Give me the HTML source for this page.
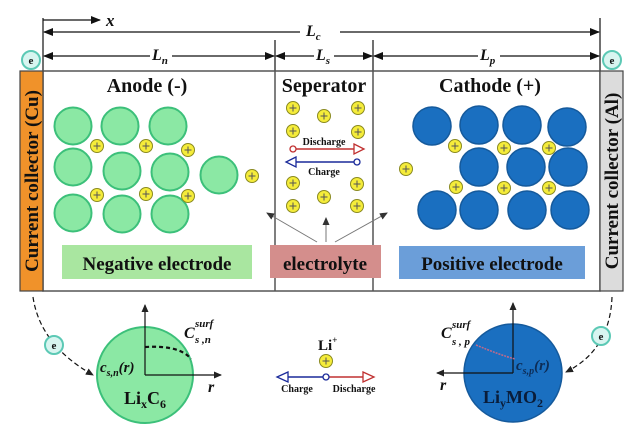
<!DOCTYPE html>
<html><head><meta charset="utf-8"><style>
html,body{margin:0;padding:0;background:#fff}
svg{display:block}
text{font-family:"Liberation Serif",serif;font-weight:bold;fill:#111}
</style></head><body>
<svg width="640" height="440" viewBox="0 0 640 440" xmlns="http://www.w3.org/2000/svg">
<defs>
<marker id="ah" markerWidth="10" markerHeight="8" refX="9" refY="4" orient="auto" markerUnits="userSpaceOnUse"><path d="M0,0 L10,4 L0,8 z" fill="#111"/></marker>
<marker id="ahs" markerWidth="8" markerHeight="7" refX="7" refY="3.5" orient="auto" markerUnits="userSpaceOnUse"><path d="M0,0 L8,3.5 L0,7 z" fill="#222"/></marker>
<marker id="ahg" markerWidth="8" markerHeight="7" refX="7" refY="3.5" orient="auto" markerUnits="userSpaceOnUse"><path d="M0,0 L8,3.5 L0,7 z" fill="#333"/></marker>
<g id="ion"><circle r="6.5" fill="#f5ec3a" stroke="#8a8a20" stroke-width="1"/><path d="M-3.5,0H3.5M0,-3.5V3.5" stroke="#555" stroke-width="1"/></g>
<g id="gc"><circle r="18.5" fill="#8be8a4" stroke="#3cc07a" stroke-width="2"/></g>
<g id="bc"><circle r="19" fill="#1a6fc0" stroke="#155a9c" stroke-width="1.5"/></g>
</defs>

<g stroke="#111" stroke-width="1.2" fill="none">
<line x1="43" y1="18" x2="43" y2="71"/>
<line x1="600" y1="18" x2="600" y2="71"/>
<line x1="275" y1="40" x2="275" y2="71"/>
<line x1="373" y1="40" x2="373" y2="71"/>
<line x1="43" y1="20" x2="100" y2="20" marker-end="url(#ah)"/>
<line x1="100" y1="32" x2="44" y2="32" marker-end="url(#ah)"/>
<line x1="340" y1="32" x2="599" y2="32" marker-end="url(#ah)"/>
<line x1="100" y1="32" x2="300" y2="32"/>
<line x1="150" y1="56" x2="44" y2="56" marker-end="url(#ah)"/>
<line x1="172" y1="56" x2="274" y2="56" marker-end="url(#ah)"/>
<line x1="314" y1="56" x2="276" y2="56" marker-end="url(#ah)"/>
<line x1="334" y1="56" x2="372" y2="56" marker-end="url(#ah)"/>
<line x1="478" y1="56" x2="374" y2="56" marker-end="url(#ah)"/>
<line x1="500" y1="56" x2="599" y2="56" marker-end="url(#ah)"/>
</g>
<text x="106" y="26" font-size="17" font-style="italic">x</text>
<text x="306" y="36" font-size="16" font-style="italic">L<tspan font-size="11" dy="4">c</tspan></text>
<text x="152" y="60" font-size="16" font-style="italic">L<tspan font-size="11" dy="4">n</tspan></text>
<text x="316" y="60" font-size="16" font-style="italic">L<tspan font-size="11" dy="4">s</tspan></text>
<text x="480" y="60" font-size="16" font-style="italic">L<tspan font-size="11" dy="4">p</tspan></text>

<rect x="43" y="71" width="557" height="220" fill="#fff" stroke="#555" stroke-width="1.5"/>
<line x1="275" y1="71" x2="275" y2="291" stroke="#555" stroke-width="1.5"/>
<line x1="373" y1="71" x2="373" y2="291" stroke="#555" stroke-width="1.5"/>
<rect x="20" y="71" width="23" height="220" fill="#f0922a" stroke="#444" stroke-width="1.2"/>
<rect x="600" y="71" width="23" height="220" fill="#dcdcdc" stroke="#444" stroke-width="1.2"/>
<text transform="translate(38,181) rotate(-90)" text-anchor="middle" font-size="19">Current collector (Cu)</text>
<text transform="translate(618,181) rotate(-90)" text-anchor="middle" font-size="19">Current collector (Al)</text>

<text x="147" y="92" text-anchor="middle" font-size="20">Anode (-)</text>
<text x="324" y="92" text-anchor="middle" font-size="20">Seperator</text>
<text x="490" y="92" text-anchor="middle" font-size="20">Cathode (+)</text>

<use href="#gc" x="73" y="126"/><use href="#gc" x="120" y="126"/><use href="#gc" x="168" y="126"/>
<use href="#gc" x="73" y="167"/><use href="#gc" x="122" y="171"/><use href="#gc" x="170" y="172"/><use href="#gc" x="219" y="175"/>
<use href="#gc" x="73" y="213"/><use href="#gc" x="122" y="214"/><use href="#gc" x="170" y="214"/>
<use href="#ion" x="97" y="146"/><use href="#ion" x="146" y="146"/><use href="#ion" x="188" y="150"/>
<use href="#ion" x="97" y="195"/><use href="#ion" x="146" y="194"/><use href="#ion" x="188" y="196"/><use href="#ion" x="252" y="176"/>

<use href="#bc" x="432" y="126"/><use href="#bc" x="479" y="125"/><use href="#bc" x="522" y="125"/><use href="#bc" x="567" y="127"/>
<use href="#bc" x="479" y="167"/><use href="#bc" x="526" y="167"/><use href="#bc" x="568" y="167"/>
<use href="#bc" x="437" y="210"/><use href="#bc" x="479" y="210"/><use href="#bc" x="527" y="210"/><use href="#bc" x="570" y="210"/>
<use href="#ion" x="455" y="146"/><use href="#ion" x="504" y="148"/><use href="#ion" x="549" y="148"/>
<use href="#ion" x="406" y="169"/><use href="#ion" x="456" y="187"/><use href="#ion" x="504" y="188"/><use href="#ion" x="549" y="188"/>

<use href="#ion" x="293" y="108"/><use href="#ion" x="324" y="116"/><use href="#ion" x="358" y="108"/>
<use href="#ion" x="293" y="131"/><use href="#ion" x="358" y="132"/>
<use href="#ion" x="293" y="183"/><use href="#ion" x="357" y="184"/><use href="#ion" x="324" y="197"/>
<use href="#ion" x="293" y="206"/><use href="#ion" x="357" y="206"/>
<line x1="296" y1="149" x2="356" y2="149" stroke="#c03030" stroke-width="1.5"/>
<circle cx="293" cy="149" r="3" fill="#fff" stroke="#c03030" stroke-width="1.3"/>
<path d="M354,144 L364,149 L354,154 z" fill="#fff" stroke="#c03030" stroke-width="1.3"/>
<line x1="294" y1="162" x2="354" y2="162" stroke="#1a2a9a" stroke-width="1.5"/>
<circle cx="357" cy="162" r="3" fill="#fff" stroke="#1a2a9a" stroke-width="1.3"/>
<path d="M296,157 L286,162 L296,167 z" fill="#fff" stroke="#1a2a9a" stroke-width="1.3"/>
<text x="324" y="145" text-anchor="middle" font-size="10">Discharge</text>
<text x="324" y="175" text-anchor="middle" font-size="10">Charge</text>

<g stroke="#777" stroke-width="1" fill="none">
<line x1="317" y1="242" x2="267" y2="213" marker-end="url(#ahg)"/>
<line x1="326" y1="242" x2="326" y2="218" marker-end="url(#ahg)"/>
<line x1="335" y1="242" x2="387" y2="213" marker-end="url(#ahg)"/>
</g>

<rect x="62" y="245" width="190" height="34" fill="#a9e6a0"/>
<text x="157" y="270" text-anchor="middle" font-size="19">Negative electrode</text>
<rect x="270" y="245" width="111" height="33" fill="#d48e8c"/>
<text x="325" y="270" text-anchor="middle" font-size="19">electrolyte</text>
<rect x="399" y="246" width="186" height="33" fill="#6b9ed9"/>
<text x="492" y="270" text-anchor="middle" font-size="19">Positive electrode</text>

<circle cx="145" cy="375" r="48" fill="#8be8a4" stroke="#3cc07a" stroke-width="2"/>
<g stroke="#111" stroke-width="1.2" fill="none">
<line x1="145" y1="375" x2="145" y2="305" marker-end="url(#ahs)"/>
<line x1="145" y1="375" x2="221" y2="375" marker-end="url(#ahs)"/>
<path d="M145,347 Q180,345 191,359" stroke-dasharray="4,3" stroke-width="2.2"/>
<path d="M33,297 Q40,345 93,375" stroke-dasharray="5,3" marker-end="url(#ahs)"/>
<path d="M612,297 Q610,350 566,372" stroke-dasharray="5,3" marker-end="url(#ahs)"/>
</g>
<text x="184" y="338" font-size="16" font-style="italic" font-weight="normal">C</text>
<text x="195" y="327" font-size="11" font-style="italic" font-weight="normal">surf</text>
<text x="195" y="343" font-size="11" font-style="italic" font-weight="normal">s ,n</text>
<text x="100" y="372" font-size="15" font-style="italic" font-weight="normal">c<tspan font-size="10" dy="4">s,n</tspan><tspan dy="-4">(r)</tspan></text>
<text x="145" y="404" text-anchor="middle" font-size="18">Li<tspan font-size="12" dy="4">x</tspan><tspan dy="-4">C</tspan><tspan font-size="12" dy="4">6</tspan></text>
<text x="208" y="392" font-size="16" font-style="italic">r</text>

<circle cx="513" cy="373" r="49" fill="#1a6fc0" stroke="#155a9c" stroke-width="1.5"/>
<g stroke="#111" stroke-width="1.2" fill="none">
<line x1="513" y1="373" x2="513" y2="303" marker-end="url(#ahs)"/>
<line x1="513" y1="373" x2="437" y2="373" marker-end="url(#ahs)"/>
</g>
<path d="M476,345 Q500,355 515,359" stroke="#c06a8a" stroke-width="1.5" fill="none" stroke-dasharray="2,1"/>
<text x="441" y="338" font-size="16" font-style="italic" font-weight="normal">C</text>
<text x="452" y="328" font-size="11" font-style="italic" font-weight="normal">surf</text>
<text x="452" y="345" font-size="11" font-style="italic" font-weight="normal">s , p</text>
<text x="516" y="370" font-size="15" font-style="italic" font-weight="normal" style="fill:#0d2c55">c<tspan font-size="10" dy="4">s,p</tspan><tspan dy="-4">(r)</tspan></text>
<text x="513" y="403" text-anchor="middle" font-size="18" style="fill:#0a1d3a">Li<tspan font-size="12" dy="4">y</tspan><tspan dy="-4">MO</tspan><tspan font-size="12" dy="4">2</tspan></text>
<text x="440" y="390" font-size="16" font-style="italic">r</text>

<text x="318" y="350" font-size="15">Li<tspan font-size="9" dy="-7">+</tspan></text>
<use href="#ion" x="326" y="361"/>
<line x1="285" y1="377" x2="323" y2="377" stroke="#1a2a9a" stroke-width="1.5"/>
<path d="M288,372 L277,377 L288,382 z" fill="#fff" stroke="#1a2a9a" stroke-width="1.3"/>
<line x1="329" y1="377" x2="363" y2="377" stroke="#c03030" stroke-width="1.5"/>
<path d="M363,372 L374,377 L363,382 z" fill="#fff" stroke="#c03030" stroke-width="1.3"/>
<circle cx="326" cy="377" r="3" fill="#fff" stroke="#1a2a9a" stroke-width="1.3"/>
<text x="297" y="392" text-anchor="middle" font-size="10">Charge</text>
<text x="354" y="392" text-anchor="middle" font-size="10">Discharge</text>

<g>
<circle cx="31" cy="60" r="9" fill="#d8f5f0" stroke="#5cc9b5" stroke-width="2"/><text x="31" y="64" text-anchor="middle" font-weight="normal" font-family="Liberation Sans,sans-serif" font-size="11">e</text>
<circle cx="612" cy="60" r="9" fill="#d8f5f0" stroke="#5cc9b5" stroke-width="2"/><text x="612" y="64" text-anchor="middle" font-weight="normal" font-family="Liberation Sans,sans-serif" font-size="11">e</text>
<circle cx="54" cy="345" r="9" fill="#d8f5f0" stroke="#5cc9b5" stroke-width="2"/><text x="54" y="349" text-anchor="middle" font-weight="normal" font-family="Liberation Sans,sans-serif" font-size="11">e</text>
<circle cx="601" cy="336" r="9" fill="#d8f5f0" stroke="#5cc9b5" stroke-width="2"/><text x="601" y="340" text-anchor="middle" font-weight="normal" font-family="Liberation Sans,sans-serif" font-size="11">e</text>
</g>
</svg>
</body></html>
